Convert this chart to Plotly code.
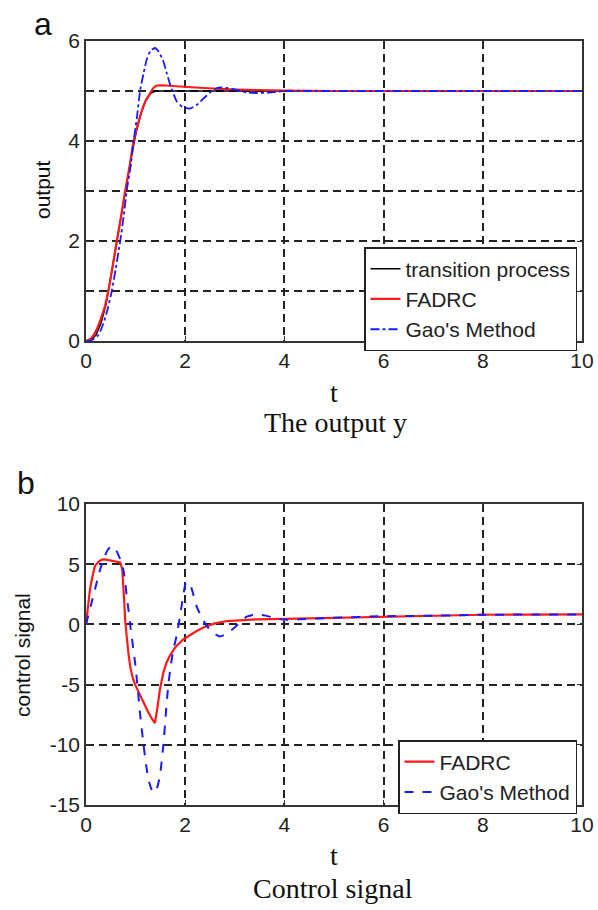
import plotly.graph_objects as go

W, H = 598, 910

# ---------------- data: panel a (output) ----------------
t_tp = [0, 0.1, 0.2, 0.3, 0.4, 0.5, 0.6, 0.7, 0.8, 0.9, 1.0, 1.1, 1.2, 1.3, 1.4, 1.6, 2, 3, 4, 5, 6, 7, 8, 9, 10]
y_tp = [0, 0.02, 0.12, 0.35, 0.72, 1.25, 1.85, 2.45, 3.05, 3.6, 4.12, 4.52, 4.8, 4.95, 5.0, 5.0, 5.0, 5.0, 5.0, 5.0, 5.0, 5.0, 5.0, 5.0, 5.0]

t_fa = [0, 0.1, 0.21, 0.3, 0.38, 0.45, 0.53, 0.62, 0.7, 0.79, 0.88, 0.96, 1.05, 1.12, 1.2, 1.29, 1.36, 1.43,
        1.6, 1.9, 2.2, 2.57, 3.0, 3.45, 4, 5, 6, 7, 8, 9, 10]
y_fa = [0, 0.05, 0.22, 0.45, 0.69, 1.0, 1.45, 2.0, 2.45, 3.0, 3.5, 4.0, 4.35, 4.59, 4.8, 4.95, 5.06, 5.11,
        5.11, 5.09, 5.07, 5.05, 5.03, 5.02, 5.01, 5.0, 5.0, 5.0, 5.0, 5.0, 5.0]

t_gao = [0, 0.12, 0.25, 0.35, 0.44, 0.52, 0.6, 0.69, 0.76, 0.82, 0.9, 0.96, 1.03, 1.09, 1.16, 1.23, 1.3, 1.39,
         1.47, 1.56, 1.63, 1.7, 1.77, 1.83, 1.95, 2.1, 2.23, 2.37, 2.5, 2.6, 2.71, 2.85, 3.04, 3.25, 3.45, 3.7,
         4.0, 4.5, 5, 6, 7, 8, 9, 10]
y_gao = [0, 0.02, 0.12, 0.35, 0.65, 1.0, 1.45, 2.0, 2.5, 3.0, 3.5, 4.0, 4.5, 5.0, 5.35, 5.65, 5.8, 5.86,
         5.78, 5.59, 5.35, 5.12, 4.93, 4.79, 4.68, 4.65, 4.72, 4.85, 4.97, 5.04, 5.07, 5.06, 5.02, 4.97, 4.96, 4.97,
         5.0, 5.0, 5.0, 5.0, 5.0, 5.0, 5.0, 5.0]

# ---------------- data: panel b (control signal) ----------------
t_ufa = [0, 0.04, 0.08, 0.13, 0.18, 0.25, 0.32, 0.38, 0.45, 0.52, 0.6, 0.69, 0.73, 0.75, 0.77, 0.79, 0.82, 0.85,
         0.89, 0.94, 0.99, 1.08, 1.16, 1.25, 1.33, 1.39, 1.44, 1.49, 1.56, 1.62, 1.69, 1.8, 1.96, 2.1, 2.23, 2.43,
         2.6, 2.84, 3.1, 3.44, 4, 4.5, 5, 5.5, 5.7, 6, 7, 7.6, 8, 9, 10]
u_fa = [0, 1.6, 2.9, 4.0, 4.86, 5.2, 5.38, 5.4, 5.35, 5.28, 5.2, 5.14, 4.6, 3.6, 2.0, 0.3, -1.2, -2.2,
        -3.47, -4.4, -5.0, -5.8, -6.5, -7.25, -7.85, -8.2, -6.9, -5.4, -4.0, -3.2, -2.6, -1.9, -1.25, -0.85, -0.55, -0.14,
        0.08, 0.28, 0.36, 0.42, 0.46, 0.5, 0.55, 0.6, 0.65, 0.68, 0.72, 0.76, 0.8, 0.82, 0.83]

t_ugao = [0, 0.1, 0.18, 0.26, 0.35, 0.44, 0.52, 0.59, 0.65, 0.71, 0.75, 0.79, 0.82, 0.86, 0.89, 0.94, 0.99, 1.04,
          1.09, 1.16, 1.21, 1.26, 1.32, 1.37, 1.43, 1.49, 1.56, 1.61, 1.66, 1.71, 1.76, 1.83, 1.9, 1.96, 2.02, 2.1,
          2.17, 2.23, 2.33, 2.43, 2.55, 2.7, 2.85, 3.04, 3.24, 3.44, 3.6, 3.8, 4.0, 4.3, 5, 6, 7, 8, 9, 10]
u_gao = [0, 1.6, 2.9, 4.2, 5.4, 6.2, 6.5, 6.3, 5.8, 5.2, 4.6, 3.6, 2.36, 1.1, 0, -1.6, -3.2, -5.2,
         -7.4, -10, -11.6, -12.9, -13.7, -14.0, -13.6, -12.6, -10, -7.4, -5, -3.4, -2.1, -0.9, 0.8, 2.4, 3.5, 3.3,
         2.4, 1.5, 0.6, -0.1, -0.65, -1.0, -0.75, -0.1, 0.64, 0.83, 0.75, 0.55, 0.38, 0.42, 0.55, 0.68, 0.72, 0.8, 0.82, 0.83]

x_ticks = [0, 2, 4, 6, 8, 10]
x_text = ["0", "2", "4", "6", "8", "10"]
ya_ticks = [0, 1, 2, 3, 4, 5, 6]
ya_text = ["0", "", "2", "", "4", "", "6"]
yb_ticks = [-15, -10, -5, 0, 5, 10]
yb_text = ["-15", "-10", "-5", "0", "5", "10"]

fig = go.Figure()

fig.add_trace(go.Scatter(x=t_tp, y=y_tp, mode="lines", name="transition process",
                         line=dict(color="black", width=1.5), xaxis="x", yaxis="y", legend="legend"))
fig.add_trace(go.Scatter(x=t_fa, y=y_fa, mode="lines", name="FADRC",
                         line=dict(color="#ff1a1a", width=2.2, shape="spline", smoothing=0.6),
                         xaxis="x", yaxis="y", legend="legend"))
fig.add_trace(go.Scatter(x=t_gao, y=y_gao, mode="lines", name="Gao's Method",
                         line=dict(color="#1a1aff", width=1.8, dash="dashdot", shape="spline", smoothing=0.6),
                         xaxis="x", yaxis="y", legend="legend"))

fig.add_trace(go.Scatter(x=t_ufa, y=u_fa, mode="lines", name="FADRC",
                         line=dict(color="#ff1a1a", width=2.2),
                         xaxis="x2", yaxis="y2", legend="legend2"))
fig.add_trace(go.Scatter(x=t_ugao, y=u_gao, mode="lines", name="Gao's Method",
                         line=dict(color="#1a1aff", width=2, dash="dash", shape="spline", smoothing=0.5),
                         xaxis="x2", yaxis="y2", legend="legend2"))

xd = [86 / W, 582 / W]
tick_font = dict(family="Liberation Sans, Arial", size=21, color="#222")
axis_common = dict(showline=True, linecolor="#333", linewidth=1.5, mirror="ticks",
                   ticks="inside", ticklen=5, tickcolor="#333",
                   showgrid=True, gridcolor="#222", gridwidth=1.5, griddash="8px,5px",
                   zeroline=False, tickfont=tick_font)

legend_font = dict(family="Liberation Sans, Arial", size=21, color="#222")
fig.update_layout(
    width=W, height=H,
    margin=dict(l=0, r=0, t=0, b=0, autoexpand=False),
    paper_bgcolor="white", plot_bgcolor="white",
    xaxis=dict(domain=xd, range=[0, 10], tickvals=x_ticks, ticktext=x_text, anchor="y", **axis_common),
    yaxis=dict(domain=[1 - 341 / H, 1 - 41 / H], range=[0, 6], tickvals=ya_ticks, ticktext=ya_text,
               anchor="x", **axis_common),
    xaxis2=dict(domain=xd, range=[0, 10], tickvals=x_ticks, ticktext=x_text, anchor="y2", **axis_common),
    yaxis2=dict(domain=[1 - 805 / H, 1 - 504 / H], range=[-15, 10], tickvals=yb_ticks, ticktext=yb_text,
                anchor="x2", **axis_common),
    legend=dict(x=577 / W, xanchor="right", y=1 - 247 / H, yanchor="top",
                bgcolor="white", bordercolor="#222", borderwidth=1.5,
                font=legend_font, tracegroupgap=0),
    legend2=dict(x=577 / W, xanchor="right", y=1 - 740 / H, yanchor="top",
                 bgcolor="white", bordercolor="#222", borderwidth=1.5,
                 font=legend_font, tracegroupgap=0),
    showlegend=True,
)

serif = dict(family="Liberation Serif, Times New Roman", size=28, color="#111")
sans = dict(family="Liberation Sans, Arial", size=21, color="#111")
ann = [
    dict(text="a", x=43 / W, y=1 - 24 / H, font=dict(family="Liberation Sans, Arial", size=32, color="#111")),
    dict(text="b", x=26 / W, y=1 - 483 / H, font=dict(family="Liberation Sans, Arial", size=32, color="#111")),
    dict(text="t", x=334 / W, y=1 - 392 / H, font=serif),
    dict(text="The output y", x=335 / W, y=1 - 422 / H, font=serif),
    dict(text="t", x=334 / W, y=1 - 855 / H, font=serif),
    dict(text="Control signal", x=333 / W, y=1 - 888 / H, font=serif),
    dict(text="output", x=42 / W, y=1 - 190 / H, textangle=-90, font=sans),
    dict(text="control signal", x=22 / W, y=1 - 655 / H, textangle=-90, font=sans),
]
for a in ann:
    a.update(xref="paper", yref="paper", showarrow=False, xanchor="center", yanchor="middle")
fig.update_layout(annotations=ann)

fig.write_html("out.html", config={"displayModeBar": False},
               post_script="document.body.style.margin='0';document.body.style.overflow='hidden';")
